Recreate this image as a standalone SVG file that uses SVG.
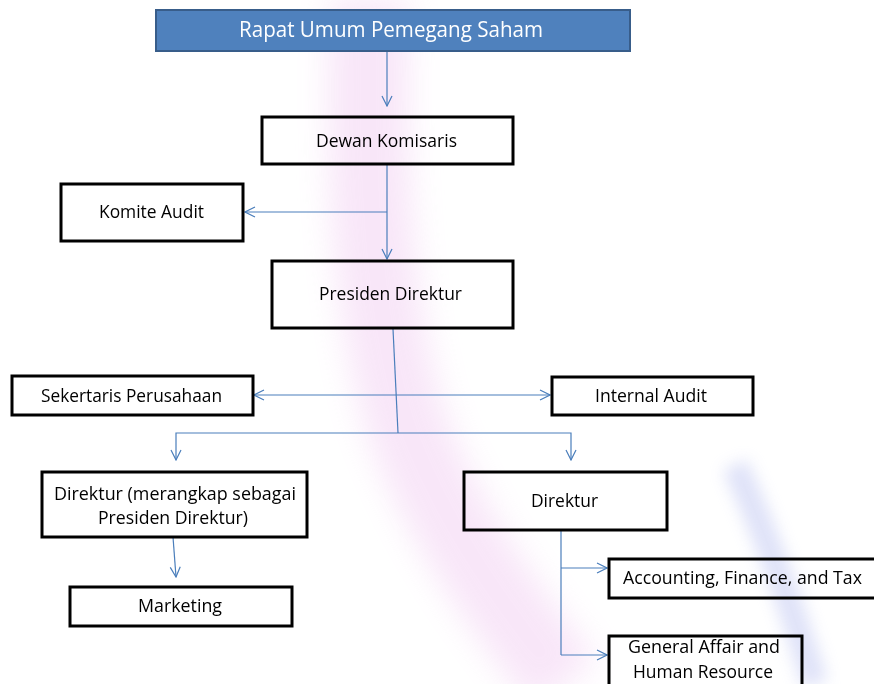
<svg xmlns="http://www.w3.org/2000/svg" width="874" height="684" viewBox="0 0 874 684">
  <defs>
    <style>
      .box { fill: none; stroke: #000000; stroke-width: 3; }
      .lbl { font-family: "Open Sans", "Noto Sans", "Liberation Sans", sans-serif; font-size: 18px; fill: #000000; }
      .con { fill: none; stroke: #4A7EBB; stroke-width: 1.2; }
    </style>
    <marker id="arr" markerUnits="userSpaceOnUse" markerWidth="12" markerHeight="12" viewBox="0 0 12 12" refX="11" refY="6" orient="auto-start-reverse">
      <path d="M1,1 L11,6 L1,11" fill="none" stroke="#4A7EBB" stroke-width="1.2"/>
    </marker>
    <filter id="blur" x="-50%" y="-50%" width="200%" height="200%">
      <feGaussianBlur stdDeviation="16"/>
    </filter>
    <filter id="blur2" x="-50%" y="-50%" width="200%" height="200%">
      <feGaussianBlur stdDeviation="8"/>
    </filter>
  </defs>

  <rect x="0" y="0" width="874" height="684" fill="#ffffff"/>

  <!-- faint background watermark -->
  <g id="watermark" opacity="0.45">
    <path d="M370,0 C365,150 370,300 405,420 C440,520 505,610 565,684" fill="none" stroke="#f0c8f0" stroke-width="80" filter="url(#blur)"/>
    <path d="M735,465 C760,520 790,600 815,684" fill="none" stroke="#b8bff0" stroke-width="26" filter="url(#blur2)"/>
  </g>

  <g id="connectors">
    <line class="con" x1="387" y1="51" x2="387" y2="106" marker-end="url(#arr)"/>
    <line class="con" x1="387" y1="165" x2="387" y2="259" marker-end="url(#arr)"/>
    <line class="con" x1="387" y1="212" x2="245" y2="212" marker-end="url(#arr)"/>
    <line class="con" x1="393" y1="329" x2="398" y2="433"/>
    <line class="con" x1="254" y1="395" x2="550" y2="395" marker-start="url(#arr)" marker-end="url(#arr)"/>
    <polyline class="con" points="176,460 176,433 571,433 571,460" marker-start="url(#arr)" marker-end="url(#arr)"/>
    <line class="con" x1="173" y1="537" x2="176" y2="577" marker-end="url(#arr)"/>
    <line class="con" x1="561" y1="531" x2="561" y2="655"/>
    <line class="con" x1="561" y1="568" x2="607" y2="568" marker-end="url(#arr)"/>
    <line class="con" x1="561" y1="655" x2="607" y2="655" marker-end="url(#arr)"/>
  </g>

  <g id="rups">
    <rect x="156" y="10" width="474" height="41" fill="#4F81BD" stroke="#385D8A" stroke-width="2"/>
    <text x="239" y="37" font-family="'Open Sans', 'Noto Sans', 'Liberation Sans', sans-serif" font-size="21" fill="#ffffff" textLength="304" lengthAdjust="spacingAndGlyphs">Rapat Umum Pemegang Saham</text>
  </g>

  <g id="dewan-komisaris">
    <rect class="box" x="262" y="117" width="251" height="47"/>
    <text class="lbl" x="316" y="147" textLength="141" lengthAdjust="spacingAndGlyphs">Dewan Komisaris</text>
  </g>

  <g id="komite-audit">
    <rect class="box" x="61" y="184" width="182" height="57"/>
    <text class="lbl" x="99" y="218" textLength="105" lengthAdjust="spacingAndGlyphs">Komite Audit</text>
  </g>

  <g id="presiden-direktur">
    <rect class="box" x="272" y="261" width="241" height="67"/>
    <text class="lbl" x="319" y="300" textLength="143" lengthAdjust="spacingAndGlyphs">Presiden Direktur</text>
  </g>

  <g id="sekertaris-perusahaan">
    <rect class="box" x="12" y="376" width="241" height="39"/>
    <text class="lbl" x="41" y="402" textLength="181" lengthAdjust="spacingAndGlyphs">Sekertaris Perusahaan</text>
  </g>

  <g id="internal-audit">
    <rect class="box" x="552" y="377" width="201" height="38"/>
    <text class="lbl" x="595" y="402" textLength="112" lengthAdjust="spacingAndGlyphs">Internal Audit</text>
  </g>

  <g id="direktur-kiri">
    <rect class="box" x="42" y="472" width="265" height="65"/>
    <text class="lbl" x="54" y="500" textLength="242" lengthAdjust="spacingAndGlyphs">Direktur (merangkap sebagai</text>
    <text class="lbl" x="98" y="524" textLength="150" lengthAdjust="spacingAndGlyphs">Presiden Direktur)</text>
  </g>

  <g id="direktur-kanan">
    <rect class="box" x="464" y="472" width="203" height="58"/>
    <text class="lbl" x="531" y="507" textLength="67" lengthAdjust="spacingAndGlyphs">Direktur</text>
  </g>

  <g id="marketing">
    <rect class="box" x="70" y="587" width="222" height="39"/>
    <text class="lbl" x="138" y="612" textLength="84" lengthAdjust="spacingAndGlyphs">Marketing</text>
  </g>

  <g id="accounting">
    <rect class="box" x="609" y="559" width="275" height="39"/>
    <text class="lbl" x="623" y="584" textLength="239" lengthAdjust="spacingAndGlyphs">Accounting, Finance, and Tax</text>
  </g>

  <g id="general-affair">
    <rect class="box" x="609" y="636" width="193" height="60"/>
    <text class="lbl" x="628" y="653" textLength="152" lengthAdjust="spacingAndGlyphs">General Affair and</text>
    <text class="lbl" x="633" y="678" textLength="140" lengthAdjust="spacingAndGlyphs">Human Resource</text>
  </g>
</svg>
